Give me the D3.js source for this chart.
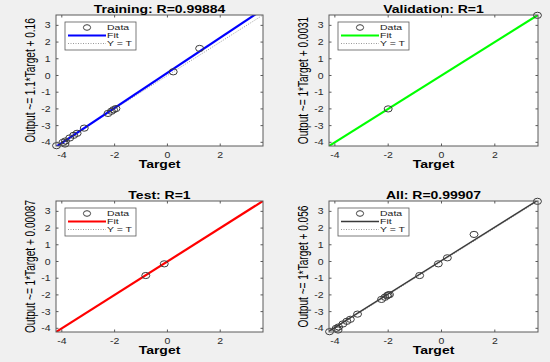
<!DOCTYPE html>
<html>
<head>
<meta charset="utf-8">
<script src="https://cdn.jsdelivr.net/npm/d3@7"></script>
<style>
  html, body { margin: 0; padding: 0; background: #f0f0f0; }
  svg { display: block; font-family: Arial, 'Liberation Sans', sans-serif; }
</style>
</head>
<body>
<div id="chart"></div>
<script>
// regression panels
const panelNames = ['Training', 'Validation', 'Test', 'All'];
const rValues = ['0.99884', '1', '1', '0.99907'];
const fitSlopes = [1.05, 1, 1, 1];
const fitSlopeLabels = ['1.1', '1', '1', '1'];
const fitIntercepts = [0.16, 0.0031, 0.00087, 0.056];
const fitColors = ['#0000ff', '#00ff00', '#ff0000', '#3a3a3a'];

// [target, output]
const trainingPts = [
  [1.22, 1.62], [0.22, 0.22], [-1.95, -1.98], [-2.04, -2.05], [-2.12, -2.14],
  [-2.25, -2.27], [-3.15, -3.15], [-3.42, -3.46], [-3.55, -3.58], [-3.7, -3.74],
  [-3.86, -3.92], [-3.95, -4.0], [-3.88, -4.1], [-4.2, -4.2]
];
const validationPts = [[-2.0, -2.0], [3.6, 3.6]];
const testPts = [[-0.82, -0.84], [-0.12, -0.14]];
const allPts = trainingPts.concat(validationPts, testPts);
const pointSets = [trainingPts, validationPts, testPts, allPts];

const axisRange = [-4.22, 3.62];
const xTicks = [-4, -2, 0, 2];
const yTicks = [-4, -3, -2, -1, 0, 1, 2, 3];
const legendLabels = ['Data', 'Fit', 'Y = T'];

const W = 550, H = 362;
// axes boxes: [left, right] columns, [top, bottom] rows
const cols = [[56, 263], [329, 538]];
const rows = [[15, 146], [201, 332]];
const squish = 0.8; // the picture is squeezed vertically

const svg = d3.select('#chart').append('svg')
  .attr('width', W).attr('height', H);

svg.append('rect').attr('width', W).attr('height', H).attr('fill', '#f0f0f0');

function hText(sel, x, y, str, size, opts = {}) {
  return sel.append('text')
    .attr('transform', `translate(${x},${y}) scale(1,${opts.sy || squish})`)
    .attr('font-size', size)
    .attr('font-weight', opts.bold ? 'bold' : 'normal')
    .attr('text-anchor', opts.anchor || 'start')
    .attr('dy', opts.dy || 0)
    .attr('fill', opts.fill || '#000')
    .text(str);
}

panelNames.forEach((name, i) => {
  const [x0, x1] = cols[i % 2];
  const [y0, y1] = rows[Math.floor(i / 2)];
  const x = d3.scaleLinear().domain(axisRange).range([x0, x1]);
  const y = d3.scaleLinear().domain(axisRange).range([y1, y0]);
  const g = svg.append('g');
  const clipId = 'clip' + i;

  g.append('clipPath').attr('id', clipId)
    .append('rect').attr('x', x0).attr('y', y0)
    .attr('width', x1 - x0).attr('height', y1 - y0);

  g.append('rect')
    .attr('x', x0).attr('y', y0)
    .attr('width', x1 - x0).attr('height', y1 - y0)
    .attr('fill', '#fff');

  const plot = g.append('g').attr('clip-path', `url(#${clipId})`);

  // Y = T reference
  plot.append('line')
    .attr('x1', x(axisRange[0])).attr('y1', y(axisRange[0]))
    .attr('x2', x(axisRange[1])).attr('y2', y(axisRange[1]))
    .attr('stroke', '#9a9a9a').attr('stroke-width', 1)
    .attr('stroke-dasharray', '1,1.5');

  // fit line
  const fit = t => fitSlopes[i] * t + fitIntercepts[i];
  plot.append('line')
    .attr('x1', x(axisRange[0])).attr('y1', y(fit(axisRange[0])))
    .attr('x2', x(axisRange[1])).attr('y2', y(fit(axisRange[1])))
    .attr('stroke', fitColors[i])
    .attr('stroke-width', i === 3 ? 1.4 : 2.2);

  // data circles
  g.selectAll('.pt')
    .data(pointSets[i])
    .enter().append('ellipse')
    .attr('cx', d => x(d[0])).attr('cy', d => y(d[1]))
    .attr('rx', 4).attr('ry', 3.1)
    .attr('fill', 'none').attr('stroke', '#3c3c3c').attr('stroke-width', 1);

  // box
  g.append('rect')
    .attr('x', x0).attr('y', y0)
    .attr('width', x1 - x0).attr('height', y1 - y0)
    .attr('fill', 'none').attr('stroke', '#5a5a5a').attr('stroke-width', 1);

  // inward ticks on all four sides
  xTicks.forEach(t => {
    g.append('line').attr('x1', x(t)).attr('x2', x(t)).attr('y1', y1).attr('y2', y1 - 2.5)
      .attr('stroke', '#5a5a5a');
    g.append('line').attr('x1', x(t)).attr('x2', x(t)).attr('y1', y0).attr('y2', y0 + 2.5)
      .attr('stroke', '#5a5a5a');
    hText(g, x(t), y1 + 11.5, String(t), 10.5, { anchor: 'middle', fill: '#2a2a2a', sy: 0.85 });
  });
  yTicks.forEach(t => {
    g.append('line').attr('x1', x0).attr('x2', x0 + 2.5).attr('y1', y(t)).attr('y2', y(t))
      .attr('stroke', '#5a5a5a');
    g.append('line').attr('x1', x1).attr('x2', x1 - 2.5).attr('y1', y(t)).attr('y2', y(t))
      .attr('stroke', '#5a5a5a');
    hText(g, x0 - 5.5, y(t), String(t), 10.5, { anchor: 'end', dy: '0.35em', fill: '#2a2a2a', sy: 0.85 });
  });

  // title and axis labels
  const cx = (x0 + x1) / 2;
  hText(g, cx, y0 - 2.5, `${name}: R=${rValues[i]}`, 14, { anchor: 'middle', bold: true });
  hText(g, cx, y1 + 22, 'Target', 14, { anchor: 'middle', bold: true });
  g.append('text')
    .attr('transform', `translate(${x0 - 26},${(y0 + y1) / 2}) rotate(-90) scale(0.72,1)`)
    .attr('font-size', 14)
    .attr('text-anchor', 'middle')
    .attr('dy', '0.35em')
    .text(`Output ~= ${fitSlopeLabels[i]}*Target + ${fitIntercepts[i]}`);

  // legend
  const lx = x0 + 9, ly = y0 + 7;
  const lg = g.append('g');
  lg.append('rect').attr('x', lx).attr('y', ly).attr('width', 71).attr('height', 28)
    .attr('fill', '#fff').attr('stroke', '#5a5a5a').attr('stroke-width', 0.8);
  const rowY = [ly + 5.5, ly + 13.5, ly + 21.5];
  lg.append('ellipse').attr('cx', lx + 22).attr('cy', rowY[0])
    .attr('rx', 3.6).attr('ry', 2.8).attr('fill', 'none').attr('stroke', '#3c3c3c');
  lg.append('line').attr('x1', lx + 3).attr('x2', lx + 41).attr('y1', rowY[1]).attr('y2', rowY[1])
    .attr('stroke', fitColors[i]).attr('stroke-width', i === 3 ? 1.4 : 2.2);
  lg.append('line').attr('x1', lx + 3).attr('x2', lx + 41).attr('y1', rowY[2]).attr('y2', rowY[2])
    .attr('stroke', '#9a9a9a').attr('stroke-dasharray', '1,1.5');
  legendLabels.forEach((lab, k) => {
    hText(lg, lx + 42, rowY[k], lab, 10.5, { dy: '0.35em', fill: '#222', sy: 0.7 });
  });
});
</script>
</body>
</html>
